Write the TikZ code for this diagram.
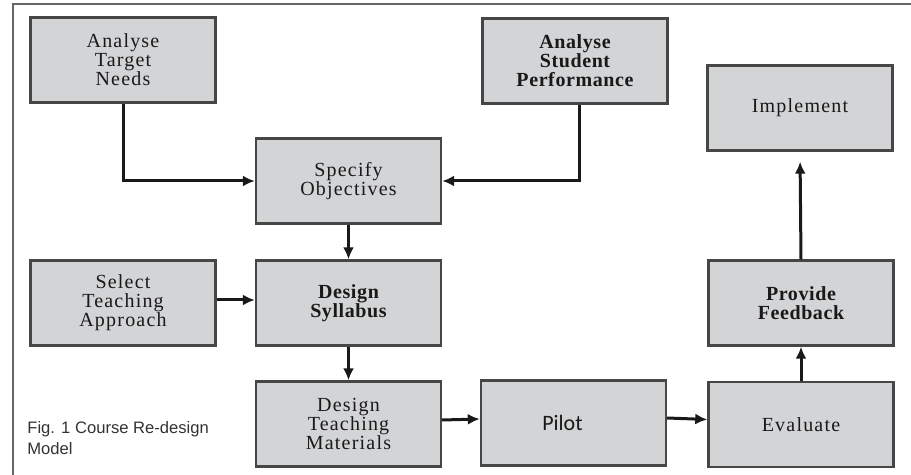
\documentclass[tikz,border=0pt]{standalone}
\usepackage{fontspec}
\setmainfont{Liberation Serif}[LetterSpace=6]
\newfontfamily\pilotfont{Carlito}
\newfontfamily\captionfont{Liberation Sans}
\usetikzlibrary{arrows.meta}
\definecolor{boxfill}{HTML}{D3D4D6}
\definecolor{boxline}{HTML}{464646}
\newcommand{\heavy}{\bfseries\addfontfeatures{LetterSpace=3}}
\begin{document}
\begin{tikzpicture}[x=0.5pt, y=-0.5pt, >={Latex[length=6pt,width=5.5pt]},
    box/.style={draw=boxline, line width=1.2pt, fill=boxfill, minimum width=92.5pt,
      minimum height=42.5pt, align=center, inner sep=2pt, text=black!90,
      font=\fontsize{10}{9.5}\selectfont},
    flow/.style={->, line width=1.5pt, draw=black!90}]
    \useasboundingbox (0,0) rectangle (911,475);
    \draw[line width=1pt, black!60] (13,475) -- (13,4) -- (911,4);

    \node[box] (target) at (123,60) {Analyse\\Target\\Needs};
    \node[box, font=\fontsize{10}{9.5}\selectfont\heavy] (student) at (575,61) {Analyse\\Student\\Performance};
    \node[box] (objectives) at (348.5,181) {Specify\\Objectives};
    \node[box] (implement) at (800,108) {Implement};
    \node[box] (approach) at (123,303) {Select\\Teaching\\Approach};
    \node[box, font=\fontsize{10}{9.5}\selectfont\heavy] (syllabus) at (348.5,303) {Design\\Syllabus};
    \node[box, font=\fontsize{10}{9.5}\selectfont\heavy] (feedback) at (801,303) {Provide\\Feedback};
    \node[box] (materials) at (348.5,424) {Design\\Teaching\\Materials};
    \node[box, font=\pilotfont\fontsize{11}{13}\selectfont] (pilot) at (573.5,423) {Pilot\hspace*{11pt}};
    \node[box] (evaluate) at (801,424.5) {Evaluate};

    \node[anchor=north west, inner sep=0pt, align=left, text=black!80,
      font=\captionfont\fontsize{8.3}{10.5}\selectfont] (caption) at (27,421)
      {Fig. 1 Course Re-design\\Model};

    \draw[flow] (target.south) |- (objectives.west);
    \draw[flow] ([xshift=2pt]student.south) |- (objectives.east);
    \draw[flow] (objectives.south) -- (syllabus.north);
    \draw[flow] ([yshift=1.5pt]approach.east) -- ([yshift=1.5pt]syllabus.west);
    \draw[flow] (syllabus.south) -- (materials.north);
    \draw[flow] ([yshift=2pt]materials.east) -- ([yshift=2pt]pilot.west);
    \draw[flow] ([yshift=2.5pt]pilot.east) -- ([yshift=2.5pt]evaluate.west);
    \draw[flow] (evaluate.north) -- (feedback.south);
    \draw[flow, shorten >=5pt] (feedback.north) -- (implement.south);
  \end{tikzpicture}
\end{document}
